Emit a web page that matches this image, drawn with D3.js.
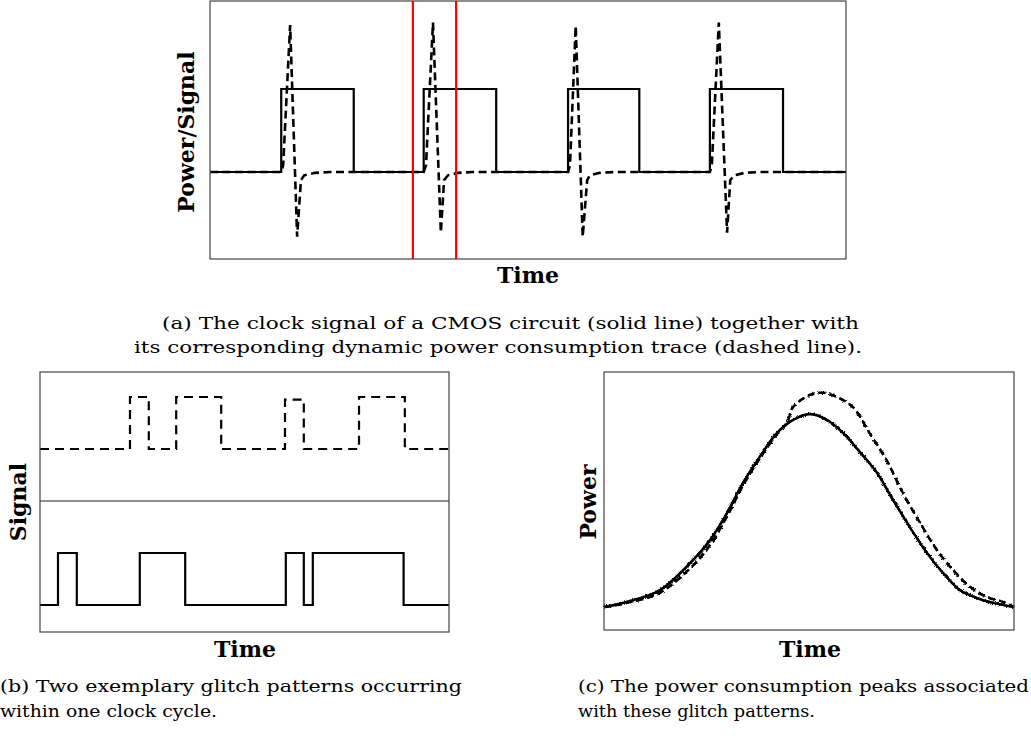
<!DOCTYPE html>
<html>
<head>
<meta charset="utf-8">
<script src="https://cdn.jsdelivr.net/npm/d3@7"></script>
<style>
  body { margin: 0; background: #fff; }
  text { font-family: "DejaVu Serif", serif; fill: #000; }
  .label { font-weight: bold; font-size: 22px; }
  .caption { font-size: 17px; }
</style>
</head>
<body>
<div class="figure"></div>
<script>
// (a) clock edges (time units 0..100) and the power trace around each rising edge
const clockEdges = [11.2, 22.6, 33.6, 45.0, 56.3, 67.5, 78.6, 90.1];
const powerTrace = [
  [0, 0], [11.2, 0], [11.5, 0.08], [12.6, 1.77], [13.7, -0.78], [14.3, -0.10], [14.8, -0.04], [16.5, -0.01], [18.9, 0],
  [33.6, 0], [33.96, 0.08], [35.06, 1.80], [36.3, -0.73], [36.8, -0.10], [37.4, -0.04], [39.0, -0.01], [41.4, 0],
  [56.3, 0], [56.6, 0.08], [57.5, 1.76], [58.6, -0.78], [59.3, -0.10], [59.7, -0.04], [61.3, -0.01], [63.7, 0],
  [78.6, 0], [78.9, 0.08], [80.0, 1.80], [81.3, -0.73], [81.8, -0.10], [82.4, -0.04], [84.1, -0.01], [86.5, 0],
  [100, 0]
];
const markers = [31.9, 38.7];

// (b) glitch patterns, [time, level]
const glitchSolid = [[0, 1], [4.4, 3], [9.0, 1], [24.4, 3], [35.5, 1], [60.1, 3], [64.5, 1], [66.7, 3], [88.9, 1], [100, 1]];
const glitchDashed = [[0, 7], [22.0, 9], [26.6, 7], [33.3, 9], [44.3, 7], [59.9, 8.9], [64.5, 7], [78.0, 9], [89.2, 7], [100, 7]];
const divider = 5;

// (c) power peaks
const peakSolid = [
  [0, 0.089], [5.6, 0.109], [13.7, 0.155], [21.7, 0.271], [25.9, 0.349], [30.0, 0.453], [33.9, 0.570],
  [38.0, 0.671], [42.2, 0.764], [46.1, 0.814], [50.2, 0.837], [54.4, 0.814], [58.3, 0.764], [62.4, 0.690],
  [66.6, 0.609], [70.5, 0.504], [74.6, 0.399], [78.8, 0.298], [82.7, 0.221], [86.8, 0.155], [91.0, 0.124],
  [94.9, 0.105], [100, 0.089]
];
const peakDashed = [
  [0, 0.089], [5.6, 0.105], [13.7, 0.145], [21.7, 0.250], [25.9, 0.330], [30.0, 0.440], [33.9, 0.560],
  [38.0, 0.665], [42.2, 0.760], [44.7, 0.806], [46.1, 0.864], [50.2, 0.911], [53.4, 0.919], [56.8, 0.903],
  [60.7, 0.864], [64.9, 0.760], [69.0, 0.656], [72.9, 0.531], [77.1, 0.415], [81.2, 0.310], [85.1, 0.233],
  [89.3, 0.167], [93.4, 0.128], [97.3, 0.109], [100, 0.090]
];

const captions = [
  { text: "(a) The clock signal of a CMOS circuit (solid line) together with", x: 162, y: 329, len: 697 },
  { text: "its corresponding dynamic power consumption trace (dashed line).", x: 134, y: 353, len: 728 },
  { text: "(b) Two exemplary glitch patterns occurring", x: 0, y: 692, len: 462 },
  { text: "within one clock cycle.", x: 0, y: 717, len: 217 },
  { text: "(c) The power consumption peaks associated", x: 578, y: 692, len: 451 },
  { text: "with these glitch patterns.", x: 578, y: 717, len: 237 }
];

const w = 1031;
const h = 742;

const svg = d3.select(".figure")
  .append("svg")
  .attr("width", w)
  .attr("height", h);

// jagged look of the measured traces
const filter = svg.append("defs").append("filter")
  .attr("id", "noisy")
  .attr("filterUnits", "userSpaceOnUse")
  .attr("x", 590).attr("y", 360).attr("width", 440).attr("height", 280);
filter.append("feTurbulence")
  .attr("type", "fractalNoise")
  .attr("baseFrequency", 0.9)
  .attr("numOctaves", 2)
  .attr("seed", 4)
  .attr("result", "turb");
filter.append("feDisplacementMap")
  .attr("in", "SourceGraphic")
  .attr("in2", "turb")
  .attr("scale", 4)
  .attr("xChannelSelector", "R")
  .attr("yChannelSelector", "G");

function frame(x0, y0, x1, y1) {
  svg.append("rect")
    .attr("x", x0).attr("y", y0)
    .attr("width", x1 - x0).attr("height", y1 - y0)
    .attr("fill", "none")
    .attr("stroke", "#444")
    .attr("stroke-width", 1.2);
}

function label(txt, x, y, rotate) {
  svg.append("text")
    .attr("class", "label")
    .attr("text-anchor", "middle")
    .attr("transform", "translate(" + x + "," + y + ")" + (rotate ? "rotate(-90)" : ""))
    .text(txt);
}

// ---- panel (a)
const xA = d3.scaleLinear().domain([0, 100]).range([210, 846]);
const yA = d3.scaleLinear().domain([0, 1]).range([172, 89]);

const clockPoints = [[0, 0]].concat(clockEdges.map((t, i) => [t, i % 2 === 0 ? 1 : 0]), [[100, 0]]);

const lineA = d3.line().x((d) => xA(d[0])).y((d) => yA(d[1]));

svg.append("path")
  .datum(powerTrace)
  .attr("d", lineA)
  .attr("fill", "none")
  .attr("stroke", "#000")
  .attr("stroke-width", 2.6)
  .attr("stroke-dasharray", "8,4.5");

svg.append("path")
  .datum(clockPoints)
  .attr("d", lineA.curve(d3.curveStepAfter))
  .attr("fill", "none")
  .attr("stroke", "#000")
  .attr("stroke-width", 2.2);

svg.selectAll(".marker")
  .data(markers)
  .enter()
  .append("line")
  .attr("class", "marker")
  .attr("x1", (d) => xA(d)).attr("x2", (d) => xA(d))
  .attr("y1", 1).attr("y2", 259)
  .attr("stroke", "#f00")
  .attr("stroke-width", 2.2);

frame(210, 1, 846, 259);
label("Power/Signal", 194, 132, true);
label("Time", 528, 283, false);

// ---- panel (b)
const xB = d3.scaleLinear().domain([0, 100]).range([40, 449]);
const yB = d3.scaleLinear().domain([0, 10]).range([631, 371]);
const lineB = d3.line().x((d) => xB(d[0])).y((d) => yB(d[1])).curve(d3.curveStepAfter);

svg.append("line")
  .attr("x1", xB(0)).attr("x2", xB(100))
  .attr("y1", yB(divider)).attr("y2", yB(divider))
  .attr("stroke", "#222")
  .attr("stroke-width", 1);

svg.append("path")
  .datum(glitchDashed)
  .attr("d", lineB)
  .attr("fill", "none")
  .attr("stroke", "#000")
  .attr("stroke-width", 2.2)
  .attr("stroke-dasharray", "9,6");

svg.append("path")
  .datum(glitchSolid)
  .attr("d", lineB)
  .attr("fill", "none")
  .attr("stroke", "#000")
  .attr("stroke-width", 2.2);

frame(40, 372, 449, 632);
label("Signal", 26, 502, true);
label("Time", 245, 657, false);

// ---- panel (c)
const xC = d3.scaleLinear().domain([0, 100]).range([604, 1014]);
const yC = d3.scaleLinear().domain([0, 1]).range([630, 372]);
const lineC = d3.line().x((d) => xC(d[0])).y((d) => yC(d[1])).curve(d3.curveCatmullRom);

// each trace: a clean core plus a displaced copy for the ragged edge
[[peakDashed, "7,4"], [peakSolid, null]].forEach(([data, dash]) => {
  [null, "url(#noisy)"].forEach((f) => {
    svg.append("path")
      .datum(data)
      .attr("d", lineC)
      .attr("fill", "none")
      .attr("stroke", "#000")
      .attr("stroke-width", 2.4)
      .attr("stroke-dasharray", dash)
      .attr("filter", f);
  });
});

frame(604, 372, 1014, 630);
label("Power", 596, 502, true);
label("Time", 810, 657, false);

// captions
svg.selectAll(".caption")
  .data(captions)
  .enter()
  .append("text")
  .attr("class", "caption")
  .attr("x", (d) => d.x)
  .attr("y", (d) => d.y)
  .attr("textLength", (d) => d.len)
  .attr("lengthAdjust", "spacingAndGlyphs")
  .text((d) => d.text);
</script>
</body>
</html>
